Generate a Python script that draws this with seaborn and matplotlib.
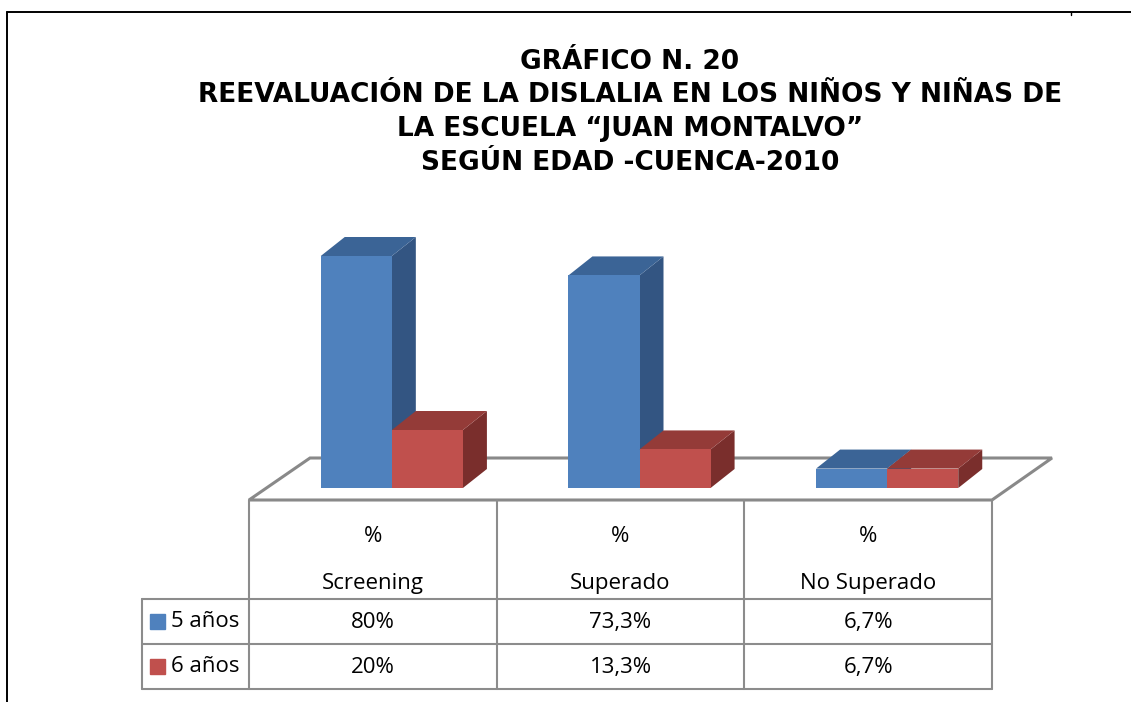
import numpy as np
import pandas as pd
import matplotlib
matplotlib.use("Agg")
import matplotlib.pyplot as plt
from matplotlib.patches import Polygon, Rectangle
import seaborn as sns

# ======================
# DATOS
# ======================
categorias = ["Screening", "Superado", "No Superado"]
edades = ["5 años", "6 años"]
cinco_anos = [80, 73.3, 6.7]
seis_anos = [20, 13.3, 6.7]
titulo = ["GRÁFICO N. 20",
          "REEVALUACIÓN DE LA DISLALIA EN LOS NIÑOS Y NIÑAS DE",
          "LA ESCUELA \u201cJUAN MONTALVO\u201d",
          "SEGÚN EDAD -CUENCA-2010"]

df = pd.DataFrame({
    "categoria": categorias * 2,
    "edad": [edades[0]] * 3 + [edades[1]] * 3,
    "valor": cinco_anos + seis_anos,
})

colores = {"5 años": "#4F81BD", "6 años": "#C0504D"}
tapa = {"5 años": "#3B6496", "6 años": "#943B38"}
lado = {"5 años": "#335582", "6 años": "#7A2E2C"}

sns.set_style("white")
plt.rcParams["font.family"] = ["Open Sans", "DejaVu Sans"]
plt.rcParams["text.color"] = "black"

W, H = 1131, 702
fig = plt.figure(figsize=(W / 100, H / 100), dpi=100)


def caja(l, t, r, b):
    return [l / W, 1 - b / H, (r - l) / W, (b - t) / H]


# fondo: marco, piso y tabla en pixeles
bg = fig.add_axes([0, 0, 1, 1])
bg.set_xlim(0, W)
bg.set_ylim(H, 0)
bg.axis("off")

# marco negro
bg.plot([7, W], [12, 12], color="black", lw=1.4)
bg.plot([7, 7], [12, H], color="black", lw=1.4)
bg.plot([1071, 1071], [12, 15], color="black", lw=1)

# titulo
for i, linea in enumerate(titulo):
    bg.text(630, 62 + i * 33.5, linea, ha="center", va="center",
            fontsize=19, fontweight="bold", family="DejaVu Sans")

# piso
gris = "#898989"
piso = Polygon([[249, 500], [310, 458], [1052, 458], [992, 500]],
               closed=True, facecolor="white", edgecolor=gris, lw=2.2)
bg.add_patch(piso)

# tabla de datos
ancho_col = (992 - 249) / len(categorias)
cols = [249 + i * ancho_col for i in range(len(categorias) + 1)]
filas = [599, 644, 689]
gt = "#8C8C8C"
for y in filas:
    bg.plot([142, 992], [y, y], color=gt, lw=1.5)
for x in cols:
    bg.plot([x, x], [500, 689], color=gt, lw=1.5)
bg.plot([142, 142], [599, 689], color=gt, lw=1.5)

fs = 16
for i, cat in enumerate(categorias):
    cx = (cols[i] + cols[i + 1]) / 2
    bg.text(cx, 537, "%", ha="center", va="center", fontsize=fs)
    bg.text(cx, 584, cat, ha="center", va="center", fontsize=fs)
    for j, serie in enumerate([cinco_anos, seis_anos]):
        cy = (filas[j] + filas[j + 1]) / 2 + 1
        etiqueta = f"{serie[i]:g}%".replace(".", ",")
        bg.text(cx, cy, etiqueta, ha="center", va="center", fontsize=fs)

for j, edad in enumerate(edades):
    cy = (filas[j] + filas[j + 1]) / 2
    bg.add_patch(Rectangle((150, cy - 8), 15, 15, color=colores[edad]))
    bg.text(171, cy, edad, ha="left", va="center", fontsize=fs)

# ======================
# BARRAS (cara frontal con seaborn + caras 3D)
# ======================
ax = fig.add_axes(caja(268, 488 - 2.9 * 100, 268 + 3 * ancho_col, 488))
ax.patch.set_alpha(0)
sns.barplot(data=df, x="categoria", y="valor", hue="edad", order=categorias,
            hue_order=edades, palette=colores, width=0.574, saturation=1,
            ax=ax, legend=False, linewidth=0)
ax.set_xlim(-0.5, 2.5)
ax.set_ylim(0, 100)
ax.axis("off")

px_x = ancho_col   # pixeles por unidad x
px_y = 2.9         # pixeles por unidad y
dx = 24 / px_x
dy = 19 / px_y

n = len(categorias)
for k, p in enumerate(ax.patches):
    edad = edades[k // n]
    x0, w, h = p.get_x(), p.get_width(), p.get_height()
    z = 3 + k * 3
    lado_poly = Polygon([[x0 + w, 0], [x0 + w + dx, dy], [x0 + w + dx, h + dy], [x0 + w, h]],
                        closed=True, facecolor=lado[edad], edgecolor="none",
                        zorder=z, clip_on=False)
    tapa_poly = Polygon([[x0, h], [x0 + w, h], [x0 + w + dx, h + dy], [x0 + dx, h + dy]],
                        closed=True, facecolor=tapa[edad], edgecolor="none",
                        zorder=z + 1, clip_on=False)
    ax.add_patch(lado_poly)
    ax.add_patch(tapa_poly)
    p.set_zorder(z + 2)
    p.set_clip_on(False)

fig.savefig("out.png", dpi=100)
